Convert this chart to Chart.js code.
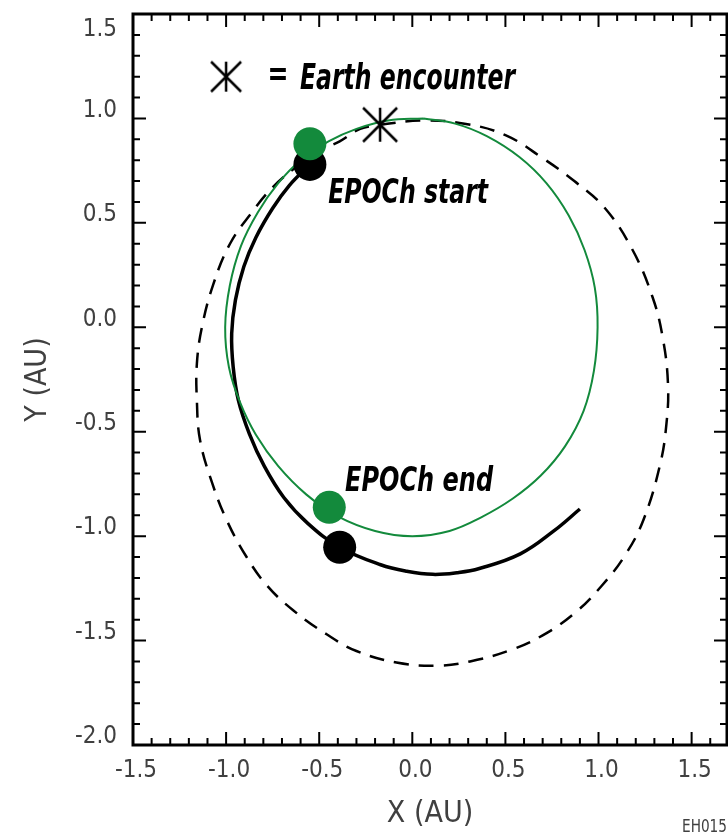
<!DOCTYPE html>
<html lang="en">
<head>
<meta charset="UTF-8">
<title>EPOCh orbit</title>
<script src="https://cdn.jsdelivr.net/npm/chart.js"></script>
<style>
  body { margin: 0; background: #fff; }
  #chart-container { width: 728px; height: 835px; }
</style>
</head>
<body>
<div id="chart-container"><canvas id="orbitChart" width="728" height="835"></canvas></div>
<script>
// Earth orbit (green), counterclockwise from the top
const earthX = [0.06, -0.13, -0.30, -0.45, -0.60, -0.72, -0.83, -0.92, -0.98, -1.005, -0.985, -0.925, -0.84, -0.72, -0.57, -0.40, -0.20, 0.00, 0.20, 0.37, 0.54, 0.69, 0.82, 0.92, 0.975, 0.995, 0.98, 0.925, 0.84, 0.72, 0.575, 0.40, 0.23, 0.06];
const earthY = [1.00, 0.99, 0.95, 0.89, 0.80, 0.69, 0.55, 0.39, 0.20, 0.00, -0.19, -0.36, -0.515, -0.665, -0.80, -0.905, -0.975, -1.00, -0.975, -0.91, -0.82, -0.71, -0.57, -0.40, -0.21, 0.00, 0.19, 0.37, 0.535, 0.69, 0.815, 0.915, 0.975, 1.00];

// spacecraft path during EPOCh (solid black)
const trajX = [-0.55, -0.66, -0.75, -0.84, -0.905, -0.95, -0.97, -0.962, -0.934, -0.875, -0.795, -0.69, -0.56, -0.39, -0.17, -0.03, 0.11, 0.24, 0.36, 0.58, 0.76, 0.90];
const trajY = [0.78, 0.68, 0.57, 0.43, 0.29, 0.13, -0.03, -0.19, -0.35, -0.51, -0.665, -0.815, -0.94, -1.053, -1.137, -1.168, -1.183, -1.175, -1.155, -1.085, -0.975, -0.87];

// spacecraft orbit (dashed), clockwise from the Earth encounter
const orbitX = [-0.17, 0.05, 0.28, 0.50, 0.70, 0.87, 1.03, 1.18, 1.29, 1.345, 1.373, 1.365, 1.33, 1.24, 1.14, 1.015, 0.87, 0.70, 0.52, 0.31, 0.13, -0.085, -0.30, -0.46, -0.64, -0.78, -0.89, -0.996, -1.075, -1.14, -1.157, -1.157, -1.13, -1.068, -0.979, -0.862, -0.75, -0.62, -0.50, -0.39, -0.28, -0.17];
const orbitY = [0.97, 0.99, 0.975, 0.92, 0.81, 0.70, 0.575, 0.375, 0.145, -0.05, -0.27, -0.46, -0.66, -0.925, -1.095, -1.24, -1.37, -1.475, -1.548, -1.60, -1.62, -1.605, -1.55, -1.47, -1.355, -1.237, -1.10, -0.925, -0.745, -0.54, -0.35, -0.175, 0.0, 0.208, 0.40, 0.55, 0.67, 0.77, 0.845, 0.89, 0.95, 0.97];

// EPOCh start / end positions
const craftDotX = [-0.55, -0.39];
const craftDotY = [0.78, -1.053];
const earthDotX = [-0.55, -0.446];
const earthDotY = [0.879, -0.862];

// Earth encounter and the key symbol
const encounterX = [-0.173];
const encounterY = [0.970];
const keyX = [-1.0];
const keyY = [1.2];

const xTicks = [-1.5, -1.0, -0.5, 0.0, 0.5, 1.0, 1.5];
const yTicks = [-2.0, -1.5, -1.0, -0.5, 0.0, 0.5, 1.0, 1.5];

const GREEN = '#138a3c';
const TEXT = '#404040';
const FONT = '"DejaVu Sans Condensed", "Liberation Sans Narrow", sans-serif';

const zip = (xs, ys) => xs.map((x, i) => ({ x: x, y: ys[i] }));

// six-armed asterisk used as point style
function makeStar(h) {
    const c = document.createElement('canvas');
    c.width = c.height = 2 * h + 4;
    const g = c.getContext('2d');
    const m = h + 2;
    g.strokeStyle = '#000';
    g.lineWidth = 2.5;
    g.beginPath();
    g.moveTo(m, m - h); g.lineTo(m, m + h);
    g.moveTo(m - h, m - h); g.lineTo(m + h, m + h);
    g.moveTo(m + h, m - h); g.lineTo(m - h, m + h);
    g.stroke();
    return c;
}

// draw text squeezed horizontally to a given pixel width
function fitText(ctx, text, x, y, width) {
    const w = ctx.measureText(text).width;
    ctx.save();
    ctx.translate(x, y);
    ctx.scale(width / w, 1);
    ctx.fillText(text, 0, 0);
    ctx.restore();
}

// box with inward ticks on all four sides
const frame = {
    id: 'frame',
    afterDraw(chart) {
        const { ctx, chartArea: a, scales: { x, y } } = chart;
        ctx.save();
        ctx.strokeStyle = '#000';
        ctx.lineWidth = 2;
        ctx.beginPath();
        for (let k = Math.ceil(x.min * 10 - 1e-6); k <= Math.floor(x.max * 10 + 1e-6); k++) {
            const px = x.getPixelForValue(k / 10);
            const len = k % 5 === 0 ? 13 : 7;
            ctx.moveTo(px, a.bottom); ctx.lineTo(px, a.bottom - len);
            ctx.moveTo(px, a.top); ctx.lineTo(px, a.top + len);
        }
        for (let k = Math.ceil(y.min * 10 - 1e-6); k <= Math.floor(y.max * 10 + 1e-6); k++) {
            const py = y.getPixelForValue(k / 10);
            const len = k % 5 === 0 ? 13 : 7;
            ctx.moveTo(a.left, py); ctx.lineTo(a.left + len, py);
            ctx.moveTo(a.right, py); ctx.lineTo(a.right - len, py);
        }
        ctx.stroke();
        ctx.lineWidth = 3;
        ctx.strokeRect(a.left, a.top, a.right - a.left, a.bottom - a.top);
        ctx.fillStyle = TEXT;
        ctx.font = '18px ' + FONT;
        ctx.textBaseline = 'alphabetic';
        fitText(ctx, 'EH015', 682, 832, 45);
        ctx.restore();
    }
};

// text labels placed in data coordinates
const notes = {
    id: 'notes',
    afterDatasetsDraw(chart) {
        const { ctx, scales: { x, y } } = chart;
        ctx.save();
        ctx.fillStyle = '#000';
        ctx.textAlign = 'center';
        ctx.textBaseline = 'middle';
        ctx.font = 'bold 34px ' + FONT;
        fitText(ctx, '=', x.getPixelForValue(-0.721), y.getPixelForValue(1.2), 21);
        ctx.textAlign = 'left';
        ctx.textBaseline = 'alphabetic';
        ctx.font = 'italic bold 36px ' + FONT;
        fitText(ctx, 'Earth encounter', x.getPixelForValue(-0.603), y.getPixelForValue(1.143), 215);
        ctx.font = 'italic bold 33px ' + FONT;
        fitText(ctx, 'EPOCh start', x.getPixelForValue(-0.452), y.getPixelForValue(0.597), 160);
        fitText(ctx, 'EPOCh end', x.getPixelForValue(-0.361), y.getPixelForValue(-0.782), 148);
        ctx.restore();
    }
};

const ctx = document.getElementById('orbitChart').getContext('2d');
const orbitChart = new Chart(ctx, {
    type: 'scatter',
    data: {
        datasets: [
            { label: 'key', data: zip(keyX, keyY), pointStyle: makeStar(15), pointRadius: 10, order: 0 },
            { label: 'Earth encounter', data: zip(encounterX, encounterY), pointStyle: makeStar(17), pointRadius: 10, order: 0 },
            { label: 'Earth at EPOCh', data: zip(earthDotX, earthDotY), pointRadius: 16.5, borderWidth: 0, backgroundColor: GREEN, order: 1 },
            { label: 'spacecraft at EPOCh', data: zip(craftDotX, craftDotY), pointRadius: 16.5, borderWidth: 0, backgroundColor: '#000', order: 2 },
            { label: 'Earth orbit', data: zip(earthX, earthY), showLine: true, pointRadius: 0, borderColor: GREEN, borderWidth: 2, tension: 0.4, order: 3 },
            { label: 'EPOCh path', data: zip(trajX, trajY), showLine: true, pointRadius: 0, borderColor: '#000', borderWidth: 3.5, tension: 0.4, order: 4 },
            { label: 'orbit', data: zip(orbitX, orbitY), showLine: true, pointRadius: 0, borderColor: '#000', borderWidth: 2.5, borderDash: [15, 10], tension: 0.4, order: 5 }
        ]
    },
    options: {
        responsive: false,
        animation: false,
        events: [],
        layout: { autoPadding: false, padding: { top: 14, right: 1, left: 0, bottom: 0 } },
        plugins: {
            legend: { display: false },
            tooltip: { enabled: false }
        },
        scales: {
            x: {
                type: 'linear',
                min: -1.5,
                max: 1.69,
                afterBuildTicks: s => { s.ticks = xTicks.map(v => ({ value: v })); },
                afterFit: s => { s.height = 90; s.paddingLeft = 0; s.paddingRight = 0; },
                grid: { display: false, drawTicks: false },
                border: { display: false },
                ticks: {
                    padding: 11,
                    labelOffset: 3,
                    autoSkip: false,
                    maxRotation: 0,
                    color: TEXT,
                    font: { family: FONT, size: 24 },
                    callback: v => v.toFixed(1)
                },
                title: { display: true, text: 'X (AU)', color: TEXT, font: { family: FONT, size: 30 }, padding: { top: 0, bottom: 3 } }
            },
            y: {
                type: 'linear',
                min: -2.0,
                max: 1.5,
                afterBuildTicks: s => { s.ticks = yTicks.map(v => ({ value: v })); },
                afterFit: s => { s.width = 133; s.paddingTop = 0; s.paddingBottom = 0; },
                grid: { display: false, drawTicks: false },
                border: { display: false },
                ticks: {
                    padding: 16,
                    labelOffset: -8,
                    color: TEXT,
                    font: { family: FONT, size: 24, lineHeight: 1 },
                    // push the top label below the frame corner
                    callback: v => v === 1.5 ? ['', '', '1.5'] : v.toFixed(1)
                },
                title: { display: true, text: 'Y (AU)', color: TEXT, font: { family: FONT, size: 30 }, padding: { top: 20, bottom: 0 } }
            }
        }
    },
    plugins: [notes, frame]
});
</script>
</body>
</html>
